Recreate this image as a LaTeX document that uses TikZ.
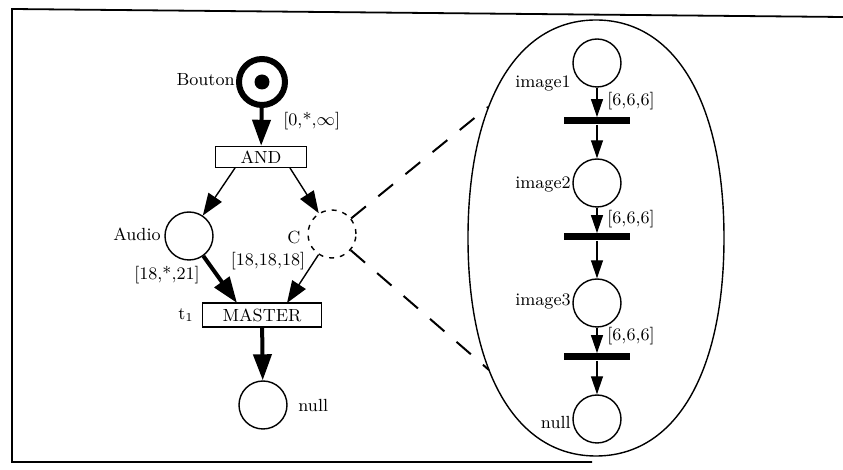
\documentclass[tikz,border=0pt]{standalone}
\usetikzlibrary{arrows.meta,calc}
\begin{document}
\begin{tikzpicture}[x=0.5pt,y=-0.5pt,
  font=\fontsize{8.8pt}{10pt}\selectfont,
  place/.style={circle,draw,line width=0.7pt,minimum size=24pt,inner sep=0pt},
  trans/.style={rectangle,draw,line width=0.7pt,inner sep=0pt},
  barbox/.style={rectangle,fill=black,inner sep=0pt,minimum width=33pt,minimum height=3.5pt},
  bigarc/.style={line width=2pt,-{Triangle[length=13pt,width=9pt]}},
  thinarc/.style={line width=0.7pt,-{Triangle[length=11pt,width=8pt]}},
  smallarc/.style={line width=0.6pt,-{Triangle[length=9pt,width=6pt]}},
  lbl/.style={inner sep=0pt},
  zoomline/.style={line width=1pt,dash pattern=on 9.5pt off 8pt}
]
\useasboundingbox (0,0) rectangle (843,470);
% frame
\draw[line width=0.9pt] (843,17) -- (12,9) -- (12,462) -- (592,462);

% left net
\node[circle,draw,line width=3pt,minimum size=23pt,inner sep=0pt] (bouton) at (262,82) {};
\node[circle,fill=black,minimum size=7.5pt,inner sep=0pt] (tok) at (bouton) {};
\node[lbl,anchor=east] (lbouton) at (235,80) {Bouton};
\node[trans,minimum width=45.5pt,minimum height=10.5pt] (and) at (261,157) {AND};
\node[lbl,anchor=west] (l0) at (283,121) {[0,*,$\infty$]};

\node[place] (audio) at (189,236) {};
\node[lbl,anchor=east] (laudio) at (161,234) {Audio};
\node[place,dash pattern=on 2.5pt off 3pt] (c) at (332,234) {};
\node[lbl] (lc) at (294,237) {C};
\node[lbl] (l18a) at (268,261) {[18,18,18]};
\node[lbl] (l18b) at (167,275) {[18,*,21]};

\node[trans,minimum width=59.5pt,minimum height=12pt] (master) at (262,315) {MASTER};
\node[lbl] (lt) at (186,315) {t$_1$};
\node[place] (null) at (263,405) {};
\node[lbl,anchor=west] (lnull) at (298,405) {null};

\coordinate (andL) at (235,168);
\coordinate (andR) at (290,168);
\coordinate (mL) at (237,303);
\coordinate (mR) at (287,303);

\draw[bigarc] (bouton) -- (and);
\draw[thinarc] (andL) -- (audio);
\draw[thinarc] (andR) -- (c);
\draw[bigarc] (audio) -- (mL);
\draw[thinarc] (c) -- (mR);
\draw[bigarc] (master) -- (null);

% zoom ellipse (slightly squarish oval)
\coordinate (eT) at (596,20);
\coordinate (eL) at (468,238);
\coordinate (eB) at (596,456);
\coordinate (eR) at (724,238);
\draw[line width=0.7pt] (eT)
  .. controls (516.6,20) and (468,103) .. (eL)
  .. controls (468,373) and (516.6,456) .. (eB)
  .. controls (675.4,456) and (724,373) .. (eR)
  .. controls (724,103) and (675.4,20) .. (eT) -- cycle;
\coordinate (eu) at (488,107);
\coordinate (el) at (489,370);
\draw[zoomline] (c) -- (eu);
\draw[zoomline] (c) -- (el);

\node[place] (img1) at (597,63) {};
\node[barbox] (b1) at (597,121) {};
\node[place] (img2) at (597,183) {};
\node[barbox] (b2) at (597,237) {};
\node[place] (img3) at (597,303) {};
\node[barbox] (b3) at (597,357) {};
\node[place] (null2) at (597,419) {};

\node[lbl,anchor=east] (limg1) at (571,83) {image1};
\node[lbl,anchor=east] (limg2) at (571,184) {image2};
\node[lbl,anchor=east] (limg3) at (571,301) {image3};
\node[lbl,anchor=east] (lnull2) at (571,422) {null};
\node[lbl,anchor=west] (l6a) at (607,101) {[6,6,6]};
\node[lbl,anchor=west] (l6b) at (607,219) {[6,6,6]};
\node[lbl,anchor=west] (l6c) at (607,336) {[6,6,6]};

\draw[smallarc] (img1) -- (b1);
\draw[smallarc] (b1) -- (img2);
\draw[smallarc] (img2) -- (b2);
\draw[smallarc] (b2) -- (img3);
\draw[smallarc] (img3) -- (b3);
\draw[smallarc] (b3) -- (null2);
\end{tikzpicture}
\end{document}
